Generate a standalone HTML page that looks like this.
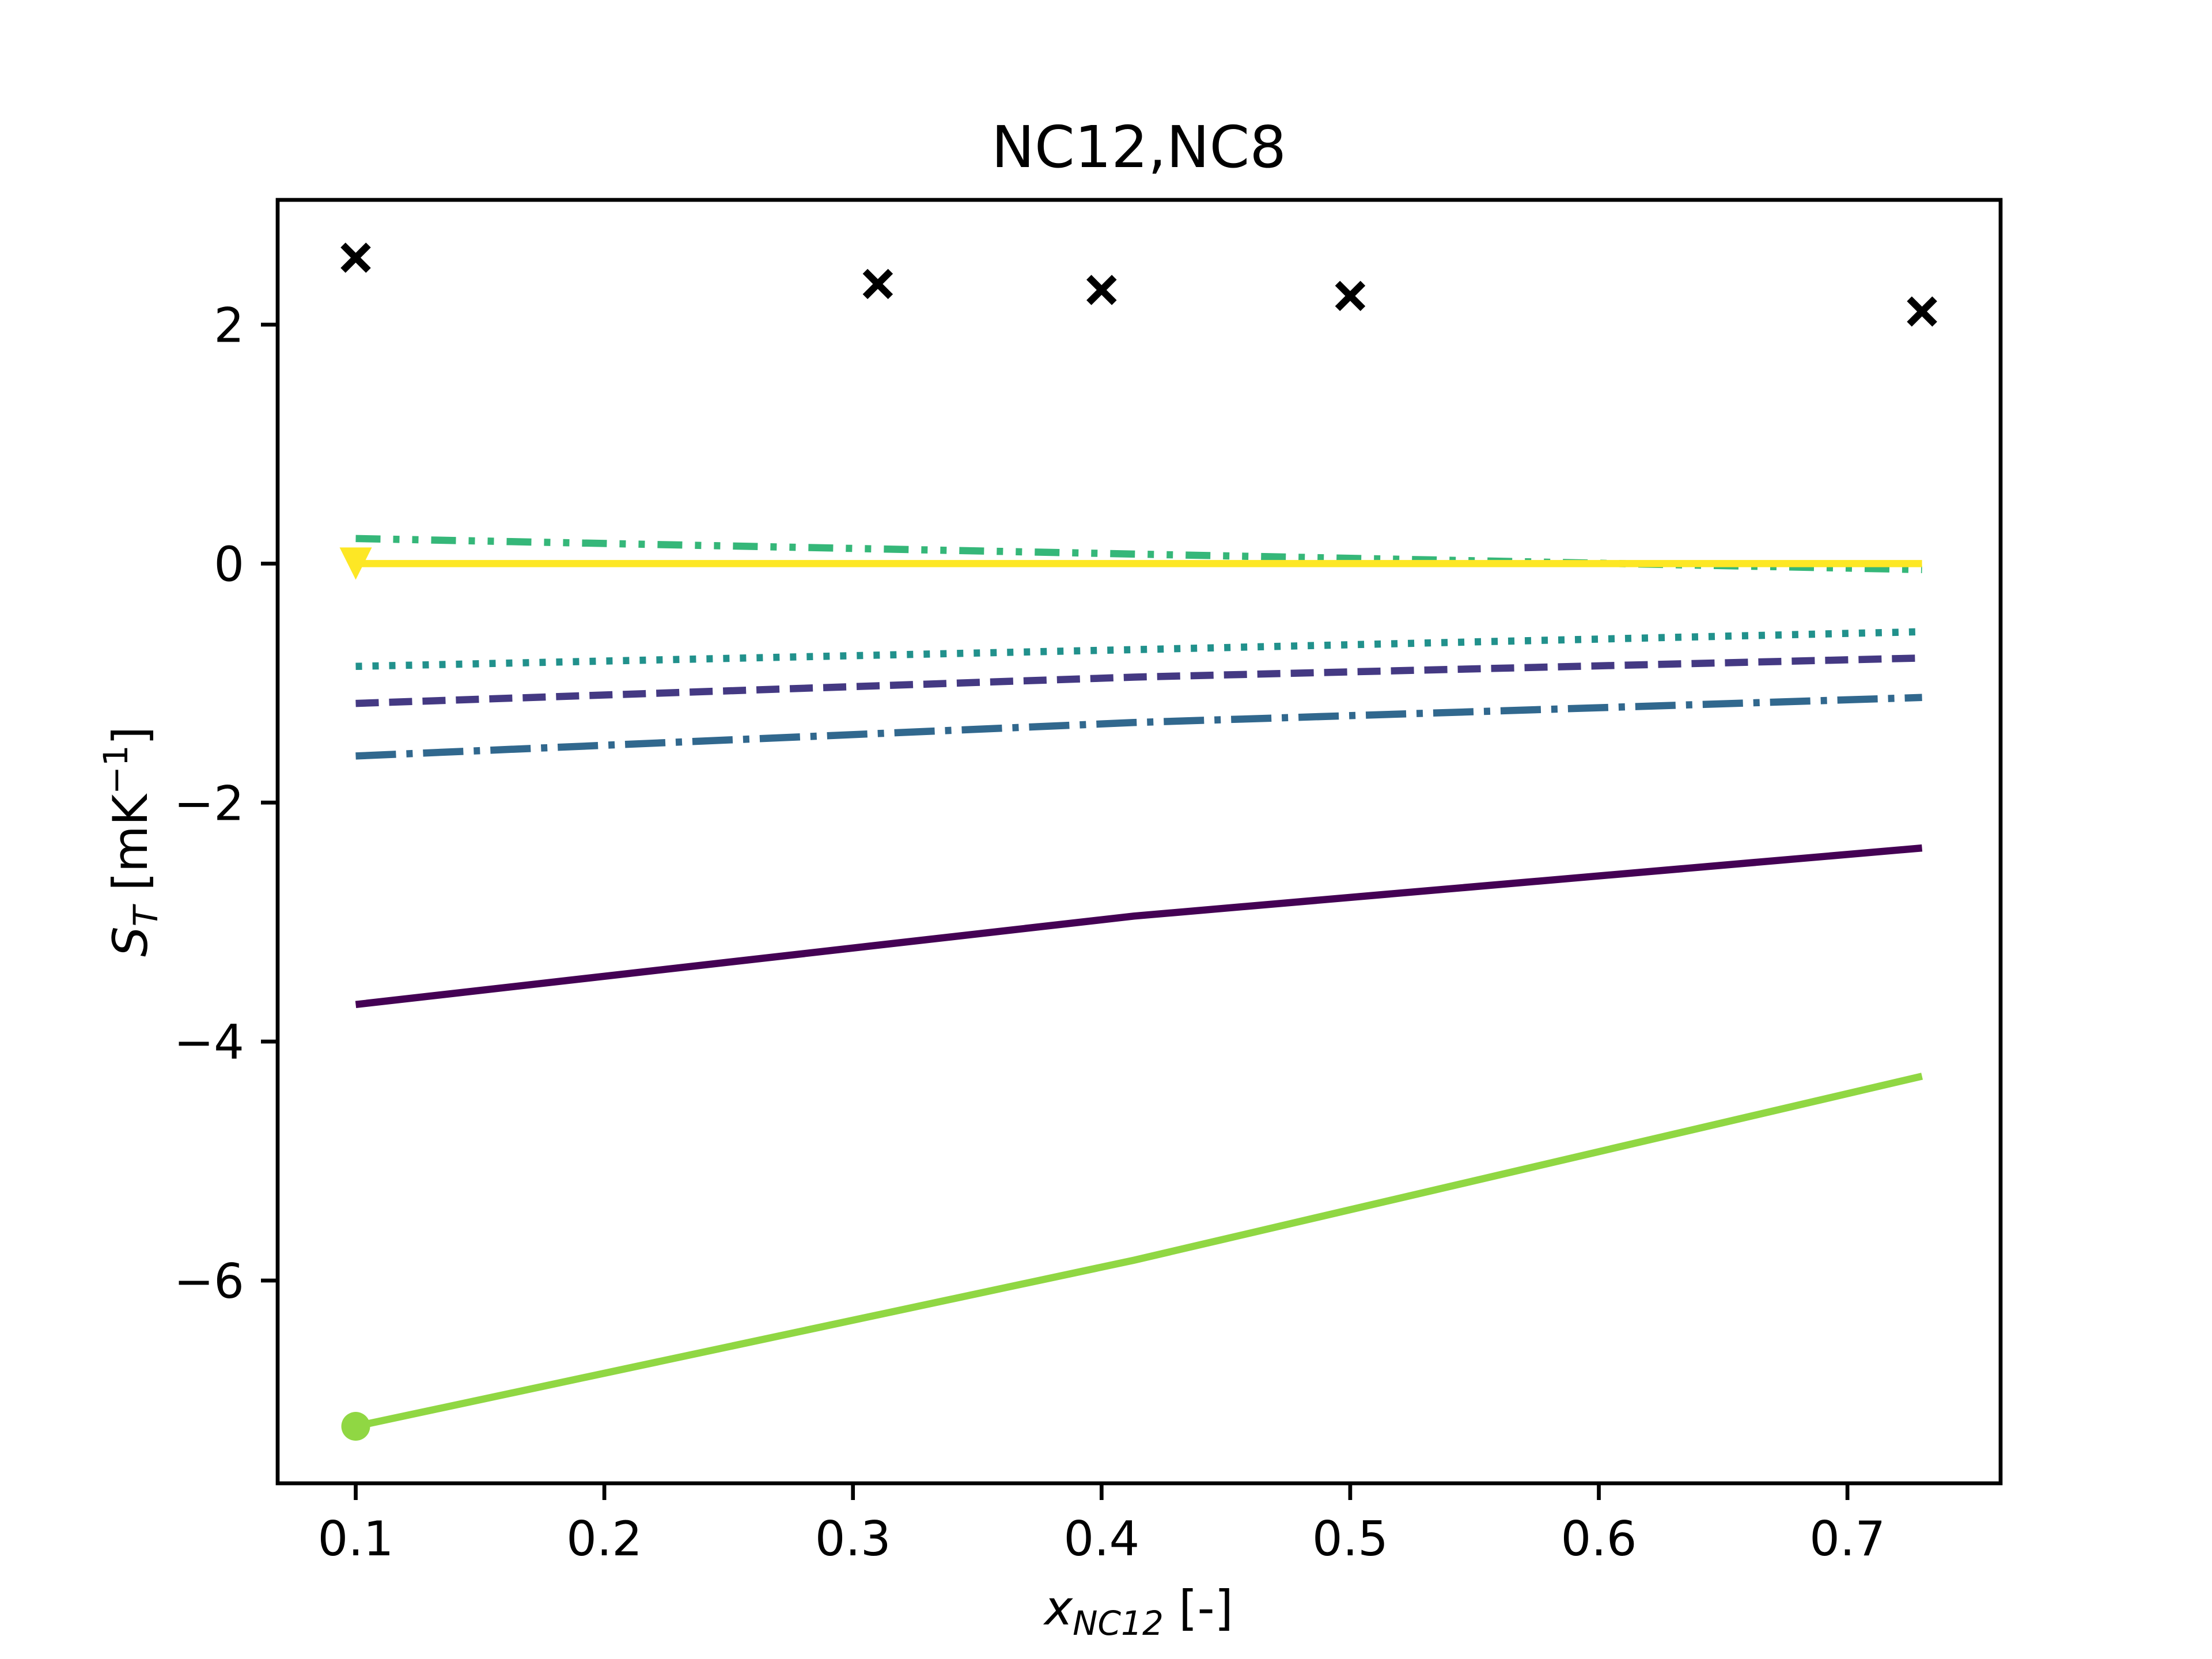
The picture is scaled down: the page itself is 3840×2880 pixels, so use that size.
<!DOCTYPE html>
<html><head><meta charset="utf-8"><style>
html,body{margin:0;padding:0;background:#fff;}
svg{display:block;font-family:"DejaVu Sans","Liberation Sans",sans-serif;}
</style></head><body>
<svg id="chart" width="3840" height="2880" viewBox="0 0 3840 2880" xmlns="http://www.w3.org/2000/svg">
<rect width="3840" height="2880" fill="#fff"/>
<text x="1977" y="290" font-size="100" text-anchor="middle">NC12,NC8</text>
<g id="plot"></g>
<g id="axes"></g>
<text x="1977" y="2820" font-size="83" text-anchor="middle"><tspan font-style="italic">x</tspan><tspan font-style="italic" font-size="58" dy="18">NC12</tspan><tspan dy="-18"> [-]</tspan></text>
<text transform="translate(255,1461) rotate(-90)" font-size="83" text-anchor="middle"><tspan font-style="italic">S</tspan><tspan font-style="italic" font-size="58" dy="18">T</tspan><tspan dy="-18"> [mK</tspan><tspan font-size="58" dy="-34">−1</tspan><tspan dy="34">]</tspan></text>
</svg>
<script>
const xTicks=[0.1,0.2,0.3,0.4,0.5,0.6,0.7];
const xTickLabels=["0.1","0.2","0.3","0.4","0.5","0.6","0.7"];
const yTicks=[2,0,-2,-4,-6];
const yTickLabels=["2","0","−2","−4","−6"];
const lineX=[0.1,0.413,0.73];
const sPurple=[-3.69,-2.95,-2.38];
const sDashed=[-1.17,-0.95,-0.79];
const sDashDot=[-1.61,-1.33,-1.12];
const sDotted=[-0.86,-0.72,-0.57];
const sDashDotDot=[0.21,0.08,-0.05];
const sYellow=[0,0,0];
const sGreen=[-7.22,-5.83,-4.29];
const crossX=[0.1,0.31,0.4,0.5,0.73];
const crossY=[2.56,2.34,2.29,2.24,2.11];

const L=482,R=3473,T=347,B=2575;
const x0=0.0686,x1=0.7616,y0=-7.697,y1=3.044;
const X=v=>L+(v-x0)/(x1-x0)*(R-L);
const Y=v=>B-(v-y0)/(y1-y0)*(B-T);
const NS="http://www.w3.org/2000/svg";
const plot=document.getElementById('plot');
const axes=document.getElementById('axes');
function mk(tag,attrs,parent){const e=document.createElementNS(NS,tag);for(const k in attrs)e.setAttribute(k,attrs[k]);parent.appendChild(e);return e;}

const series=[
 {vals:sPurple,color:'#440154',dash:'',name:'line-solid-purple'},
 {vals:sDashed,color:'#443983',dash:'40 18',name:'line-dashed'},
 {vals:sDashDot,color:'#31688e',dash:'70 18 11 18',name:'line-dashdot'},
 {vals:sDotted,color:'#21918c',dash:'11 18',name:'line-dotted'},
 {vals:sDashDotDot,color:'#35b779',dash:'43 22 11 22 11 22',name:'line-dashdotdot'},
 {vals:sGreen,color:'#90d743',dash:'',name:'line-solid-green'},
 {vals:sYellow,color:'#fde725',dash:'',name:'line-solid-yellow'}
];
series.forEach(s=>{
 const p=mk('polyline',{points:lineX.map((x,i)=>X(x)+','+Y(s.vals[i])).join(' '),fill:'none',stroke:s.color,'stroke-width':12.5,'stroke-dasharray':s.dash},plot);
 
 
});
const c=mk('circle',{cx:X(lineX[0]),cy:Y(sGreen[0]),r:25,fill:'#90d743'},plot);


const tx=X(lineX[0]),ty=Y(sYellow[0]);
const tri=mk('polygon',{points:`${tx-28},${ty-28} ${tx+28},${ty-28} ${tx},${ty+28}`,fill:'#fde725'},plot);


crossX.forEach((x,i)=>{
 const cx=X(x),cy=Y(crossY[i]);
 const p=mk('path',{d:`M${cx-22},${cy-22}L${cx+22},${cy+22}M${cx-22},${cy+22}L${cx+22},${cy-22}`,stroke:'#000','stroke-width':12},plot);
 
 
});
const fr=mk('rect',{x:L,y:T,width:R-L,height:B-T,fill:'none',stroke:'#000','stroke-width':6.7},axes);


xTicks.forEach((v,i)=>{
 const x=X(v);
 const t=mk('line',{x1:x,x2:x,y1:B,y2:B+29,stroke:'#000','stroke-width':6.7},axes);
 
 
 const l=mk('text',{x:x,y:B+125,'font-size':83,'text-anchor':'middle'},axes);
 l.textContent=xTickLabels[i];
 
 
});
yTicks.forEach((v,i)=>{
 const y=Y(v);
 const t=mk('line',{x1:L-29,x2:L,y1:y,y2:y,stroke:'#000','stroke-width':6.7},axes);
 
 
 const l=mk('text',{x:L-58,y:y+30,'font-size':83,'text-anchor':'end'},axes);
 l.textContent=yTickLabels[i];
 
 
});
</script>
</body></html>
